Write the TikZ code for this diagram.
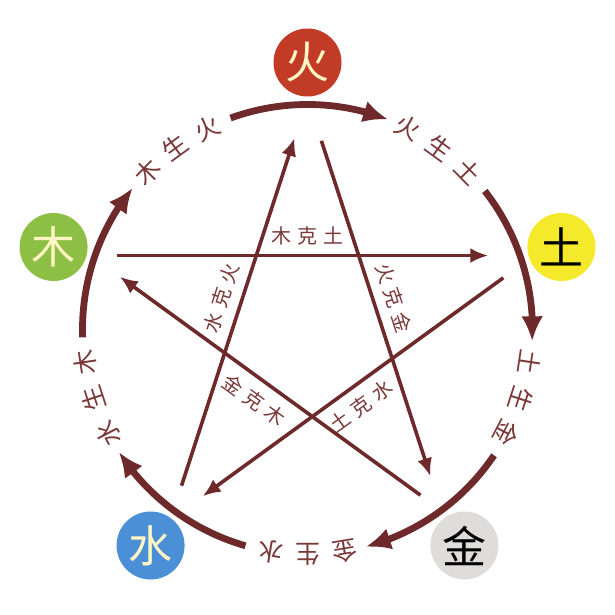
\documentclass[tikz,border=0pt]{standalone}
\usepackage{fontspec}
\newfontfamily\cjk{Noto Sans CJK SC}
\usetikzlibrary{arrows.meta,bending,calc}
\definecolor{lineclr}{HTML}{6E2A2A}
\definecolor{txtclr}{HTML}{7A3838}
\definecolor{fire}{HTML}{C13B26}
\definecolor{wood}{HTML}{8DBF45}
\definecolor{earth}{HTML}{F4E92B}
\definecolor{water}{HTML}{4B8FD6}
\definecolor{metal}{HTML}{DFDDDB}
\definecolor{cream}{HTML}{FFF6C4}
\begin{document}
\begin{tikzpicture}[x=1pt,y=1pt,
  ring/.style={line width=6.8pt, draw=lineclr, -{Latex[length=25pt,width=22pt]}},
  starline/.style={line width=3.6pt, draw=lineclr, -{Latex[length=18pt,width=15pt]}, shorten <=26pt, shorten >=36pt},
  elem/.style={circle, minimum size=68pt, inner sep=0pt, font=\cjk\fontsize{44}{44}\selectfont},
  ringtxt/.style={text=txtclr, inner sep=0pt, font=\cjk\fontsize{25}{25}\selectfont},
  ketxt/.style={text=txtclr, inner sep=0pt, sloped, font=\cjk\fontsize{20}{20}\selectfont}]
\useasboundingbox (0,0) rectangle (615,615);
\coordinate (C) at (307.5,285.5);
\coordinate (S) at (307.5,289);
% elements
\node[elem, fill=fire,  text=cream] (huo)  at ($(C)+(90:267)$)   {火};
\node[elem, fill=earth, text=black] (tu)   at ($(C)+(18:267)$)   {土};
\node[elem, fill=metal, text=black] (jin)  at ($(C)+(-54:267)$)  {金};
\node[elem, fill=water, text=cream] (shui) at ($(C)+(-126:267)$) {水};
\node[elem, fill=wood,  text=cream] (mu)   at ($(C)+(162:267)$)  {木};
% ring of generation
\foreach \t/\a/\b/\c [count=\i] in {90/火/生/土,18/土/生/金,-54/金/生/水,-126/水/生/木,162/木/生/火}{
  \pgfmathsetmacro\sa{\t+20}
  \pgfmathsetmacro\ea{\t-21}
  \coordinate (as\i) at ($(C)+(\sa:225)$);
  \draw[ring] (as\i) arc[start angle=\sa, end angle=\ea, radius=225];
  \node[ringtxt, rotate=\t-116.5] (ra\i) at ($(C)+(\t-26.5:225)$) {\a};
  \node[ringtxt, rotate=\t-126] (rb\i) at ($(C)+(\t-36:225)$) {\b};
  \node[ringtxt, rotate=\t-135.5] (rc\i) at ($(C)+(\t-45.5:225)$) {\c};
}
% star of control
\coordinate (vF)  at ($(S)+(90:228)$);
\coordinate (vE)  at ($(S)+(18:228)$);
\coordinate (vM)  at ($(S)+(-54:228)$);
\coordinate (vWa) at ($(S)+(-126:228)$);
\coordinate (vWo) at ($(S)+(162:228)$);
\coordinate (vE2)  at ($(vE)+(0,-7)$);
\coordinate (vWa2) at ($(vWa)+(0,-7)$);
\draw[starline] (vWo) -- node[ketxt, above=9pt] (k1) {木\hspace{6pt}克\hspace{6pt}土} (vE);
\draw[starline] (vE2) -- node[ketxt, below=9pt] (k2) {土\hspace{6pt}克\hspace{6pt}水} (vWa2);
\draw[starline, shorten >=42pt] (vWa) -- node[ketxt, above=9pt] (k3) {水\hspace{6pt}克\hspace{6pt}火} (vF);
\draw[starline, shorten <=45pt] (vF) -- node[ketxt, above=9pt] (k4) {火\hspace{6pt}克\hspace{6pt}金} (vM);
\draw[starline] (vM) -- node[ketxt, below=10pt] (k5) {金\hspace{6pt}克\hspace{6pt}木} (vWo);
\end{tikzpicture}
\end{document}
